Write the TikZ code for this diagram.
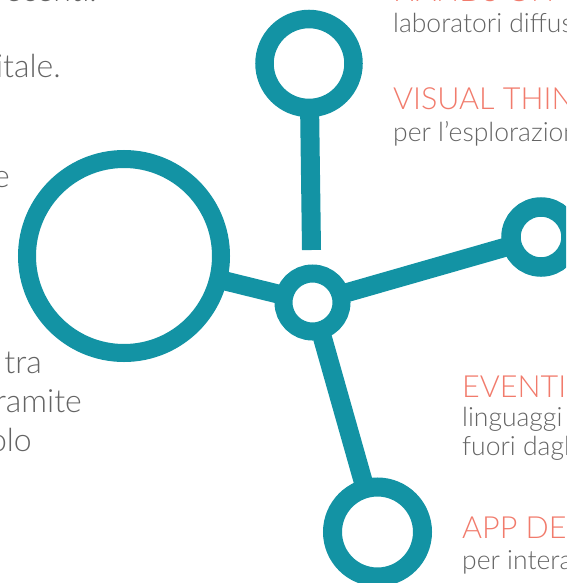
\documentclass[tikz,border=0pt]{standalone}
\usepackage{fontspec}
\IfFontExistsTF{Lato Light}{\setmainfont{Lato Light}}{\setmainfont{Lato}}
\usetikzlibrary{backgrounds}
\definecolor{teal}{RGB}{19,147,164}
\definecolor{salmon}{RGB}{241,123,108}
\definecolor{txtgray}{RGB}{100,100,100}
\begin{document}
\begin{tikzpicture}[x=1pt,y=-1pt,
  ring/.style={circle,draw=teal,fill=white,inner sep=0pt},
  link/.style={draw=teal,line width=19pt},
  head/.style={text=salmon,inner sep=0pt,anchor=base west,font=\fontsize{30.5}{32}\selectfont},
  body/.style={text=txtgray,inner sep=0pt,anchor=base west,font=\fontsize{26.5}{28}\selectfont},
  lbody/.style={text=txtgray,inner sep=0pt,anchor=base east,font=\fontsize{32}{34}\selectfont}]
\useasboundingbox (0,0) rectangle (566,583);
\clip (0,0) rectangle (566,583);
% rings
\node[ring,line width=18pt,minimum size=194pt] (big) at (124,256) {};
\node[ring,line width=18.5pt,minimum size=89pt] (top) at (309,63.5) {};
\node[ring,line width=18pt,minimum size=58pt] (hub) at (312.5,302.5) {};
\node[ring,line width=19.5pt,minimum size=60pt] (right) at (541,237) {};
\node[ring,line width=19pt,minimum size=90pt] (bottom) at (377.5,532) {};
\coordinate (stemend) at (311.5,250);
\begin{pgfonlayer}{background}
\draw[link] (hub.center) -- (big.center);
\draw[link] (hub.center) -- (right.center);
\draw[link] (hub.center) -- (bottom.center);
\draw[link] (top.center) -- (stemend);
\end{pgfonlayer}
% left text
\node[lbody] (l0) at (97,2) {recenti.};
\node[lbody] (l1) at (61,78) {digitale.};
\node[lbody] (l2) at (10,187) {e};
\node[lbody] (l3) at (42,373) {tra};
\node[lbody] (l4) at (82,412) {tramite};
\node[lbody] (l5) at (32,451) {polo};
% right text
\node[head] (h1) at (393,2) {HANDS ON};
\node[body] (b1) at (393,33) {laboratori diffusi};
\node[head] (h2) at (393,110) {VISUAL THINKING};
\node[body] (b2) at (393,141) {per l’esplorazione};
\node[head] (h3) at (462,397) {EVENTI};
\node[body] (b3) at (462,426) {linguaggi};
\node[body] (b4) at (462,455) {fuori dagli};
\node[head] (h4) at (462,538) {APP DEDICATE};
\node[body] (b5) at (462,569) {per interagire};
\end{tikzpicture}
\end{document}
